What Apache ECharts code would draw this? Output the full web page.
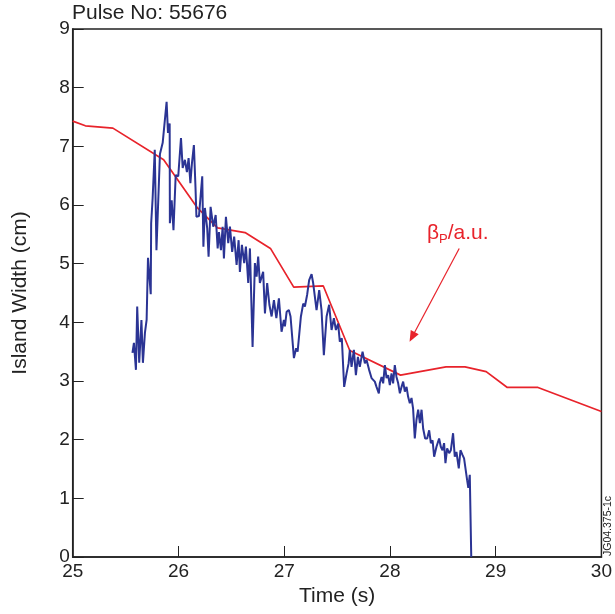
<!DOCTYPE html>
<html>
<head>
<meta charset="utf-8">
<script src="https://cdn.jsdelivr.net/npm/echarts@6/dist/echarts.min.js"></script>
<style>html,body{margin:0;padding:0;background:#fff}#c{width:615px;height:614px}</style>
</head>
<body>
<div id="c"></div>
<script>
// Island width (blue) – time (s) and width (cm)
var islandT = [25.565,25.579,25.598,25.610,25.629,25.650,25.664,25.683,25.699,25.712,25.738,25.742,25.756,25.776,25.792,25.825,25.851,25.888,25.901,25.917,25.919,25.936,25.953,25.974,25.998,26.024,26.040,26.061,26.080,26.096,26.113,26.128,26.146,26.161,26.170,26.194,26.225,26.236,26.250,26.272,26.285,26.304,26.329,26.352,26.371,26.383,26.402,26.418,26.430,26.449,26.471,26.487,26.508,26.527,26.550,26.569,26.581,26.600,26.622,26.638,26.660,26.676,26.701,26.723,26.739,26.754,26.770,26.801,26.818,26.839,26.860,26.881,26.903,26.926,26.950,26.975,26.997,27.007,27.023,27.044,27.060,27.092,27.113,27.127,27.158,27.180,27.196,27.217,27.236,27.259,27.274,27.306,27.331,27.353,27.375,27.401,27.425,27.448,27.470,27.489,27.510,27.526,27.545,27.567,27.590,27.609,27.621,27.637,27.659,27.678,27.697,27.715,27.741,27.763,27.779,27.803,27.826,27.857,27.873,27.895,27.904,27.921,27.936,27.952,27.968,27.983,27.999,28.015,28.030,28.046,28.062,28.078,28.094,28.110,28.125,28.141,28.157,28.172,28.188,28.204,28.219,28.235,28.251,28.267,28.283,28.299,28.314,28.333,28.352,28.371,28.387,28.403,28.418,28.440,28.465,28.481,28.497,28.512,28.525,28.541,28.560,28.576,28.597,28.613,28.629,28.651,28.667,28.686,28.701,28.730,28.741,28.755,28.769];
var islandW = [3.48,3.65,3.19,4.27,3.31,4.04,3.31,3.82,4.04,5.10,4.48,5.69,6.12,6.94,5.23,6.87,7.06,7.76,7.23,7.39,5.69,6.08,5.57,6.51,6.49,7.14,6.63,6.77,6.56,6.80,6.37,6.72,7.02,6.31,5.80,5.81,6.49,5.29,5.95,5.60,5.12,5.97,5.63,5.83,5.26,5.54,5.23,5.63,5.09,5.80,5.35,5.63,5.20,5.46,4.98,5.40,4.86,5.32,5.01,5.29,4.67,5.26,3.58,5.01,4.78,5.12,4.67,4.86,4.15,4.67,4.30,4.10,4.38,4.07,4.41,3.84,4.04,3.93,4.18,4.21,4.10,3.39,3.56,3.50,4.10,4.32,4.27,4.47,4.72,4.82,4.67,4.21,4.55,4.21,3.44,4.10,4.30,3.87,4.07,3.87,3.98,3.67,3.73,2.90,3.13,3.30,3.53,3.24,3.53,3.10,3.41,3.24,3.50,3.30,3.36,3.19,3.05,2.99,2.90,2.79,2.96,3.07,2.96,3.27,3.05,3.10,2.93,3.13,2.96,3.27,3.07,2.96,2.79,2.90,2.99,2.82,2.90,2.73,2.62,2.71,2.53,2.02,2.34,2.51,2.28,2.51,2.19,2.02,2.02,2.16,1.94,1.99,1.71,1.88,2.02,1.88,1.82,1.94,1.60,1.85,1.77,1.82,2.11,1.71,1.79,1.51,1.82,1.74,1.68,1.31,1.18,1.40,0];
// Beta_P (red), arbitrary units
var betaT = [25.00,25.12,25.38,25.86,26.18,26.37,26.63,26.87,27.09,27.37,27.62,28.10,28.53,28.71,28.91,29.11,29.40,30.00];
var betaV = [7.43,7.35,7.31,6.77,5.95,5.61,5.53,5.26,4.60,4.62,3.52,3.10,3.24,3.24,3.16,2.89,2.89,2.48];
var xTicks = [25,26,27,28,29,30];
var yTicks = [0,1,2,3,4,5,6,7,8,9];
// annotation arrow (data coords)
var arrowFrom = [28.655, 5.26];
var arrowTo = [28.210, 3.75];

function zip(a,b){return a.map(function(v,i){return [v,b[i]];});}
var FONT = '"Liberation Sans", Arial, sans-serif';
var RED = '#e8232b', BLUE = '#2b3494', INK = '#222';

var chart = echarts.init(document.getElementById('c'), null, {renderer:'canvas'});
chart.setOption({
  animation: false,
  backgroundColor: '#fff',
  textStyle: {fontFamily: FONT},
  title: {text: 'Pulse No: 55676', left: 70, top: 1, padding: [2,2,2,2],
    textStyle: {fontSize: 21, fontWeight: 'normal', color: INK, fontFamily: FONT}},
  grid: {left: 72.7, right: 13.3, top: 29, bottom: 57, show: true, borderColor: INK, borderWidth: 1.5, backgroundColor:'transparent'},
  xAxis: {type: 'value', min: xTicks[0], max: xTicks[xTicks.length-1], interval: 1,
    name: 'Time (s)', nameLocation: 'middle', nameGap: 28,
    nameTextStyle: {fontSize: 21, color: INK, fontFamily: FONT},
    axisLine: {lineStyle: {color: INK, width: 1.5}},
    axisTick: {inside: true, length: 11, lineStyle: {color: INK, width: 1}},
    axisLabel: {fontSize: 19, color: INK, margin: 5, fontFamily: FONT},
    splitLine: {show: false}},
  yAxis: {type: 'value', min: yTicks[0], max: yTicks[yTicks.length-1], interval: 1,
    name: 'Island Width (cm)', nameLocation: 'middle', nameGap: 42,
    nameTextStyle: {fontSize: 21, color: INK, fontFamily: FONT},
    axisLine: {lineStyle: {color: INK, width: 1.5}},
    axisTick: {inside: true, length: 11, lineStyle: {color: INK, width: 1}},
    axisLabel: {fontSize: 19, color: INK, margin: 3, fontFamily: FONT},
    splitLine: {show: false}},
  series: [
    {type: 'line', data: zip(betaT, betaV), symbol: 'none', lineStyle: {color: RED, width: 1.7}, z: 2,
     markLine: {silent: true, symbol: ['none','triangle'], symbolSize: [9,11],
       lineStyle: {color: RED, width: 1.2, type: 'solid'}, label: {show: false},
       data: [[{coord: arrowFrom}, {coord: arrowTo}]]}},
    {type: 'line', data: zip(islandT, islandW), symbol: 'none', lineStyle: {color: BLUE, width: 2}, z: 3}
  ],
  graphic: [
    {type: 'text', left: 427, top: 223, style: {
      rich: {a: {fontSize: 21, fill: RED, fontFamily: FONT}, s: {fontSize: 13, fill: RED, fontFamily: FONT, padding:[11,0,0,0]}},
      text: '{a|β}{s|P}{a|/a.u.}'}},
    {type: 'text', x: 608.5, y: 556, rotation: Math.PI/2, z: 100, style: {text: 'JG04.375-1c', fontSize: 10.5, fill: INK, fontFamily: FONT, verticalAlign: 'middle'}}
  ]
});
</script>
</body>
</html>
